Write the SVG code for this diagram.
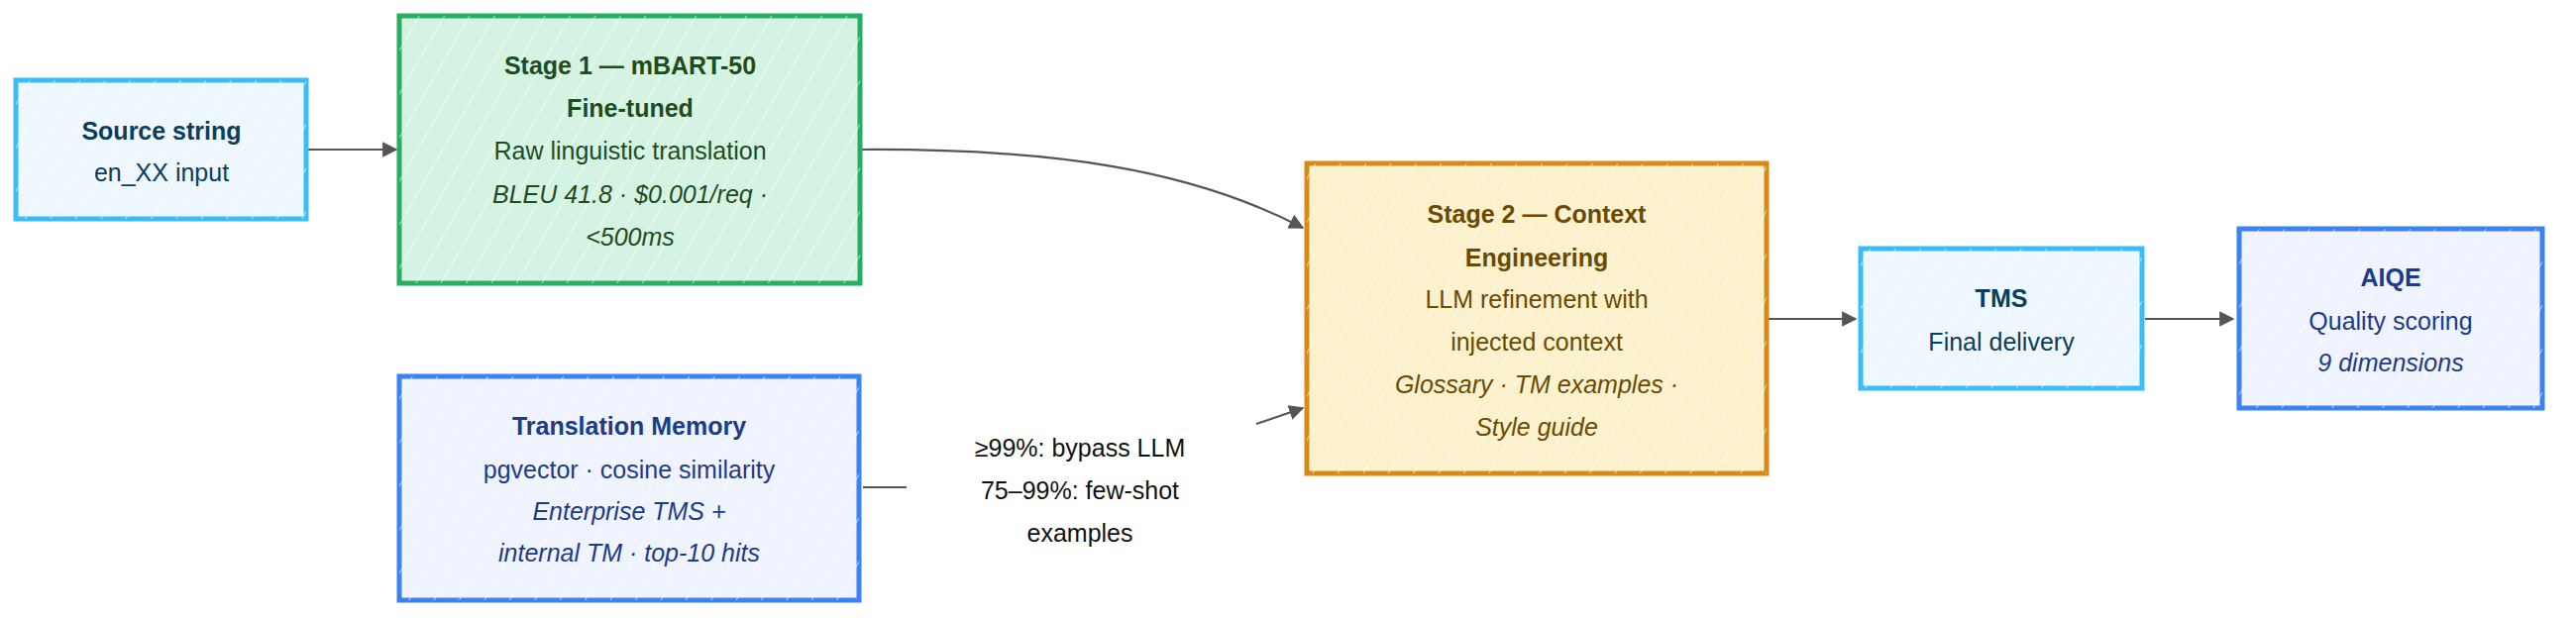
<svg xmlns="http://www.w3.org/2000/svg" width="2600" height="626" viewBox="0 0 2600 626">
<style>
text{font-family:"Liberation Sans",Arial,sans-serif;font-size:25px;text-anchor:middle}
.b{font-weight:bold}
.i{font-style:italic}
.box{stroke-width:5}
.edge{fill:none;stroke:#555;stroke-width:2.2}
</style>
<defs>
<pattern id="h" width="22" height="22" patternUnits="userSpaceOnUse" patternTransform="rotate(30)">
<line x1="0" y1="0" x2="0" y2="22" stroke="#fff" stroke-width="2" opacity="0.6"/>
</pattern>
<marker id="a" viewBox="0 0 10 10" refX="9" refY="5" markerWidth="7" markerHeight="7" orient="auto">
<path d="M0,0 L10,5 L0,10 z" fill="#555"/>
</marker>
</defs>
<g id="connectors">
<path class="edge" d="M310,151 L400,151" marker-end="url(#a)"/>
<path class="edge" d="M870,151 C1060,150 1200,170 1315,230" marker-end="url(#a)"/>
<path class="edge" d="M871,492 L915,492"/>
<path class="edge" d="M1268,428 L1315,412" marker-end="url(#a)"/>
<path class="edge" d="M1785,322 L1873,322" marker-end="url(#a)"/>
<path class="edge" d="M2165,322 L2254,322" marker-end="url(#a)"/>
<text x="1090" y="461" fill="#111">≥99%: bypass LLM</text>
<text x="1090" y="504" fill="#111">75–99%: few-shot</text>
<text x="1090" y="547" fill="#111">examples</text>
</g>
<g id="source">
<rect class="box" x="16" y="81" width="293" height="140" fill="#eef7fe" stroke="#38bdf8"/>
<rect x="16" y="81" width="293" height="140" fill="url(#h)"/>
<text class="b" x="163" y="141" fill="#0b3d5c">Source string</text>
<text x="163" y="183" fill="#0b3d5c">en_XX input</text>
</g>
<g id="stage1">
<rect class="box" x="403" y="16" width="465" height="270" fill="#d5f3e2" stroke="#27ae60"/>
<rect x="403" y="16" width="465" height="270" fill="url(#h)"/>
<text class="b" x="636" y="75" fill="#1d4d1f">Stage 1 — mBART-50</text>
<text class="b" x="636" y="118" fill="#1d4d1f">Fine-tuned</text>
<text x="636" y="161" fill="#1d4d1f">Raw linguistic translation</text>
<text class="i" x="636" y="205" fill="#1d4d1f">BLEU 41.8 · $0.001/req ·</text>
<text class="i" x="636" y="248" fill="#1d4d1f">&lt;500ms</text>
</g>
<g id="tm">
<rect class="box" x="403" y="380" width="464" height="226" fill="#eef3fd" stroke="#3b82f6"/>
<rect x="403" y="380" width="464" height="226" fill="url(#h)"/>
<text class="b" x="635" y="439" fill="#1e3a8a">Translation Memory</text>
<text x="635" y="483" fill="#1e3a8a">pgvector · cosine similarity</text>
<text class="i" x="635" y="525" fill="#1e3a8a">Enterprise TMS +</text>
<text class="i" x="635" y="567" fill="#1e3a8a">internal TM · top-10 hits</text>
</g>
<g id="stage2">
<rect class="box" x="1319" y="165" width="464" height="313" fill="#fbf1cc" stroke="#d98a14"/>
<rect x="1319" y="165" width="464" height="313" fill="url(#h)"/>
<text class="b" x="1551" y="225" fill="#6b4a00">Stage 2 — Context</text>
<text class="b" x="1551" y="269" fill="#6b4a00">Engineering</text>
<text x="1551" y="311" fill="#6b4a00">LLM refinement with</text>
<text x="1551" y="354" fill="#6b4a00">injected context</text>
<text class="i" x="1551" y="397" fill="#6b4a00">Glossary · TM examples ·</text>
<text class="i" x="1551" y="440" fill="#6b4a00">Style guide</text>
</g>
<g id="tms">
<rect class="box" x="1878" y="251" width="284" height="141" fill="#eef7fe" stroke="#38bdf8"/>
<rect x="1878" y="251" width="284" height="141" fill="url(#h)"/>
<text class="b" x="2020" y="310" fill="#0b3d5c">TMS</text>
<text x="2020" y="354" fill="#0b3d5c">Final delivery</text>
</g>
<g id="aiqe">
<rect class="box" x="2260" y="231" width="306" height="181" fill="#eef3fd" stroke="#3b82f6"/>
<rect x="2260" y="231" width="306" height="181" fill="url(#h)"/>
<text class="b" x="2413" y="289" fill="#1e3a8a">AIQE</text>
<text x="2413" y="333" fill="#1e3a8a">Quality scoring</text>
<text class="i" x="2413" y="375" fill="#1e3a8a">9 dimensions</text>
</g>
</svg>
